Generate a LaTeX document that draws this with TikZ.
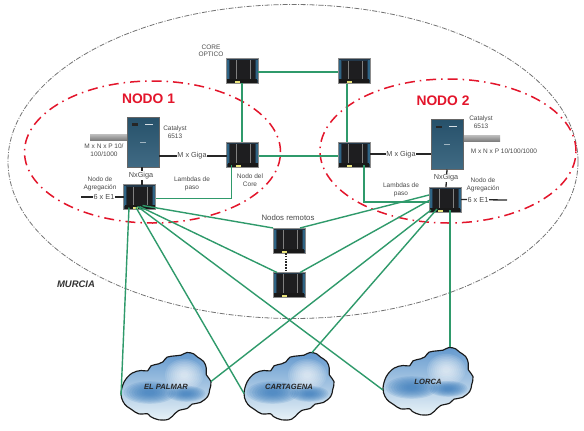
\documentclass[tikz,border=0pt]{standalone}
\usepackage{fontspec}
\setmainfont{Liberation Sans}
\usetikzlibrary{calc}
\definecolor{linkgreen}{HTML}{2F9A6B}
\definecolor{nodered}{HTML}{E3152B}
\definecolor{txtgray}{HTML}{4A4A4A}
\definecolor{devframe}{HTML}{23384A}
\definecolor{devside}{HTML}{2F6484}
\definecolor{panelblack}{HTML}{1E1E20}
\definecolor{catblue}{HTML}{2B5A76}
\definecolor{cloudblob}{HTML}{3F7FBE}
\definecolor{softyellow}{HTML}{E8E27A}
\tikzset{
  greenlink/.style={draw=linkgreen,line width=1.4pt},
  greenthick/.style={draw=linkgreen,line width=1.9pt,line join=miter},
  blacklink/.style={draw=black!85,line width=1.3pt},
  devbox/.style={rectangle,draw=black!45,line width=.4pt,fill=devframe,minimum width=32pt,minimum height=25pt,inner sep=0pt,outer sep=0pt},
  catbox/.style={rectangle,draw=black!60,line width=.5pt,top color=catblue!90!black,bottom color=catblue!90!white,minimum width=32pt,minimum height=50pt,inner sep=0pt,outer sep=0pt},
  graybar/.style={rectangle,top color=black!25,bottom color=black!50,minimum width=37pt,minimum height=6pt,inner sep=0pt,outer sep=0pt},
  lbl/.style={text=txtgray,font=\fontsize{6.5}{7.4}\selectfont,align=center,inner sep=0pt},
  lnklbl/.style={text=txtgray,font=\fontsize{7.3}{8}\selectfont,fill=white,inner sep=.6pt},
  nodotitle/.style={text=nodered,font=\fontsize{13.8}{15}\selectfont\bfseries,inner sep=0pt},
  regionlbl/.style={text=black!80,font=\fontsize{9.5}{11}\selectfont\bfseries\itshape,inner sep=0pt},
  cloudlbl/.style={text=black!85,font=\fontsize{7.6}{9}\selectfont\bfseries\itshape,inner sep=0pt},
  cloudbox/.style={rectangle,minimum width=90pt,minimum height=67pt,inner sep=0pt,outer sep=0pt},
  redring/.style={draw=nodered,line width=1.5pt,dash pattern=on 10pt off 5pt on 1.5pt off 5pt},
  outerring/.style={draw=black!55,line width=.8pt,dash pattern=on 5pt off 1.5pt on 1pt off 1.5pt},
}
\newcommand{\devicebox}[3]{%
  \node[devbox] (#1) at (#2,#3) {};
  \begin{scope}[shift={(#1.center)}]
    \fill[devside] (-15.5,-11) rectangle (-13.5,9);
    \fill[devside] (13.5,-11) rectangle (15.5,9);
    \fill[panelblack] (-12.5,-10.5) rectangle (12.5,8);
    \draw[black!50,line width=.5pt] (-6,-10.5) -- (-6,8) (8,-10.5) -- (8,8);
    \fill[black!90] (-15,8) rectangle (15,12);
    \fill[softyellow] (-7,10) rectangle (-2,12.4);
  \end{scope}}
\newcommand{\catalystbox}[3]{%
  \node[catbox] (#1) at (#2,#3) {};
  \begin{scope}[shift={(#1.center)}]
    \fill[black!85] (-11,-19) rectangle (-5,-16.5);
    \fill[white!80!catblue] (2,-18.2) rectangle (10,-17.4);
    \fill[white!55!catblue] (-3,-.5) rectangle (3,.3);
  \end{scope}}
\newcommand{\cloudnode}[4]{%
  \node[cloudbox] (#1) at (#2,#3) {};
  \begin{scope}[shift={(#1.center)},x=.3333pt,y=-.3333pt,shift={(-167,-140)}]
    \def\cloudpath{plot[smooth cycle,tension=.62] coordinates {(32,160)(42,125)(65,100)(92,92)(112,93)(122,78)(145,72)(158,66)(170,52)(195,48)(212,46)(230,38)(250,42)(262,52)(280,65)(288,85)(288,105)(302,125)(298,150)(292,170)(270,188)(245,193)(232,205)(205,212)(195,220)(175,238)(145,240)(120,230)(112,222)(85,222)(65,210)(50,200)(38,185)}}
    \begin{scope}
      \clip \cloudpath;
      \shade[top color={rgb,255:red,95;green,150;blue,205},middle color={rgb,255:red,165;green,200;blue,228},bottom color={rgb,255:red,235;green,244;blue,248}] (20,30) rectangle (310,245);
      \foreach \r in {1,.9,...,.15}{
        \fill[white,opacity=.11] (222,105) ellipse [x radius=\r*58,y radius=\r*48];
      }
      \foreach \r in {1,.9,...,.15}{
        \fill[cloudblob,opacity=.16] (118,158) ellipse [x radius=\r*78,y radius=\r*34];
        \fill[cloudblob,opacity=.16] (228,162) ellipse [x radius=\r*58,y radius=\r*24];
      }
    \end{scope}
    \draw[black!90,line width=1.15pt,line join=round] \cloudpath;
  \end{scope}
  \node[cloudlbl] (#1text) at (#1.center) {#4};}
\begin{document}
\begin{tikzpicture}[x=1pt,y=-1pt]
\useasboundingbox (0,0) rectangle (584,431);
\fill[white] (0,0) rectangle (584,431);
% rings
\node[draw=none,inner sep=0pt,minimum size=0pt] (outercenter) at (293,161.5) {};
\draw[outerring] (outercenter) ellipse [x radius=285pt,y radius=157pt];
\node[draw=none,inner sep=0pt,minimum size=0pt] (ringonecenter) at (152.5,152) {};
\node[draw=none,inner sep=0pt,minimum size=0pt] (ringtwocenter) at (448,151) {};
\draw[redring] (ringonecenter) ellipse [x radius=128pt,y radius=71pt];
\draw[redring] (ringtwocenter) ellipse [x radius=128pt,y radius=72pt];
% clouds
\cloudnode{palmar}{166}{386.5}{EL PALMAR}
\cloudnode{cartagena}{289}{386.5}{CARTAGENA}
\cloudnode{lorca}{428}{381.5}{LORCA}
% gray bars
\node[graybar] (barone) at (108.5,137) {};
\node[graybar] (bartwo) at (481.5,138) {};
% devices
\devicebox{coretl}{242}{70.5}
\devicebox{coretr}{354}{71}
\devicebox{corel}{242.5}{154.5}
\devicebox{corer}{354}{154.5}
\devicebox{aggl}{139.5}{197}
\devicebox{aggr}{445}{199.5}
\devicebox{remoteone}{289}{240.5}
\devicebox{remotetwo}{289}{284.5}
\catalystbox{catone}{143}{142}
\catalystbox{cattwo}{447}{144.5}
% black links
\draw[blacklink] ([shift={(0,14)}]catone.east) -- ([shift={(0,1.5)}]corel.west);
\draw[blacklink] ([shift={(0,-.5)}]corer.east) -- ([shift={(0,9.5)}]cattwo.west);
\draw[blacklink] ([shift={(-1,0)}]catone.south) -- ([shift={(2.5,0)}]aggl.north);
\draw[blacklink] (cattwo.south) -- ([shift={(1,0)}]aggr.north);
\coordinate (stubone) at (81,197);
\coordinate (stubtwo) at (507,200);
\draw[blacklink] (stubone) -- (aggl.west);
\draw[blacklink] (aggr.east) -- (stubtwo);
\draw[black!85,line width=1.6pt,dash pattern=on 1.6pt off 1.2pt] ([shift={(-3,0)}]remoteone.south) -- ([shift={(-3,0)}]remotetwo.north);
% green links
\draw[greenthick] ([shift={(0,1.5)}]coretl.east) -- ([shift={(0,1)}]coretr.west);
\draw[greenthick] (coretl.south) -- ([shift={(-.5,0)}]corel.north);
\draw[greenthick] ([shift={(-7,0)}]coretr.south) -- ([shift={(-7,0)}]corer.north);
\draw[greenthick] ([shift={(0,1.5)}]corel.east) -- ([shift={(0,1.5)}]corer.west);
\draw[greenthick] ([shift={(-11,-2)}]corel.south) |- ([shift={(0,1.5)}]aggl.east);
\draw[greenthick] ([shift={(10,-2)}]corer.south) |- ([shift={(0,2.5)}]aggr.west);
\draw[greenlink] ([shift={(-10.5,-2)}]aggl.south) -- ([shift={(-45,9)}]palmar.center);
\draw[greenlink] ([shift={(-3.5,-2)}]aggl.south) -- ([shift={(-45,7)}]cartagena.center);
\draw[greenlink] ([shift={(-2,-3)}]aggl.south) -- ([shift={(-45,8.5)}]lorca.center);
\draw[greenlink] ([shift={(0,-3)}]aggl.south) -- ([shift={(-12,-12)}]remotetwo.center);
\draw[greenlink] ([shift={(3,-4)}]aggl.south) -- (remoteone.north west);
\draw[greenlink] ([shift={(0,8)}]aggr.north west) -- ([shift={(-5,0)}]remoteone.north east);
\draw[greenlink] ([shift={(1,13)}]aggr.north west) -- ([shift={(11,-12)}]remotetwo.center);
\draw[greenlink] ([shift={(2,-2)}]aggr.south west) -- ([shift={(45,-5)}]palmar.center);
\draw[greenlink] ([shift={(-8,-3)}]aggr.south) -- ([shift={(23,-34)}]cartagena.center);
\draw[greenlink] ([shift={(5,-2)}]aggr.south) -- ([shift={(22,-34.5)}]lorca.center);
% labels
\node[lbl] (lcoreoptico) at (211,51) {CORE\\OPTICO};
\node[nodotitle] (lnodoone) at (148.5,99) {NODO 1};
\node[nodotitle] (lnodotwo) at (443,101) {NODO 2};
\node[lbl] (lcatone) at (175,132) {Catalyst\\6513};
\node[lbl] (lcattwo) at (481,122) {Catalyst\\6513};
\node[lbl] (lportsone) at (104,150) {M x N x P 10/\\100/1000};
\node[lbl] (lportstwo) at (504,151) {M x N x P 10/100/1000};
\node[lnklbl] (lgigaone) at (192,156) {M x Giga};
\node[lnklbl] (lgigatwo) at (401,154.5) {M x Giga};
\node[lnklbl] (lngigaone) at (141,175.5) {NxGiga};
\node[lnklbl] (lngigatwo) at (446,178) {NxGiga};
\node[lbl] (laggone) at (100,184) {Nodo de\\Agregación};
\node[lbl] (laggtwo) at (483,185) {Nodo de\\Agregación};
\node[lnklbl] (leone) at (104,197) {6 x E1};
\node[lnklbl] (letwo) at (478,200) {6 x E1};
\node[lbl] (llamone) at (192,184) {Lambdas de\\paso};
\node[lbl] (llamtwo) at (401,190) {Lambdas de\\paso};
\node[lbl] (lnodocore) at (250,180) {Nodo del\\Core};
\node[lbl,font=\fontsize{7.8}{9}\selectfont] (lremotos) at (288,217.5) {Nodos remotos};
\node[regionlbl] (lmurcia) at (76,284.5) {MURCIA};
\end{tikzpicture}
\end{document}
